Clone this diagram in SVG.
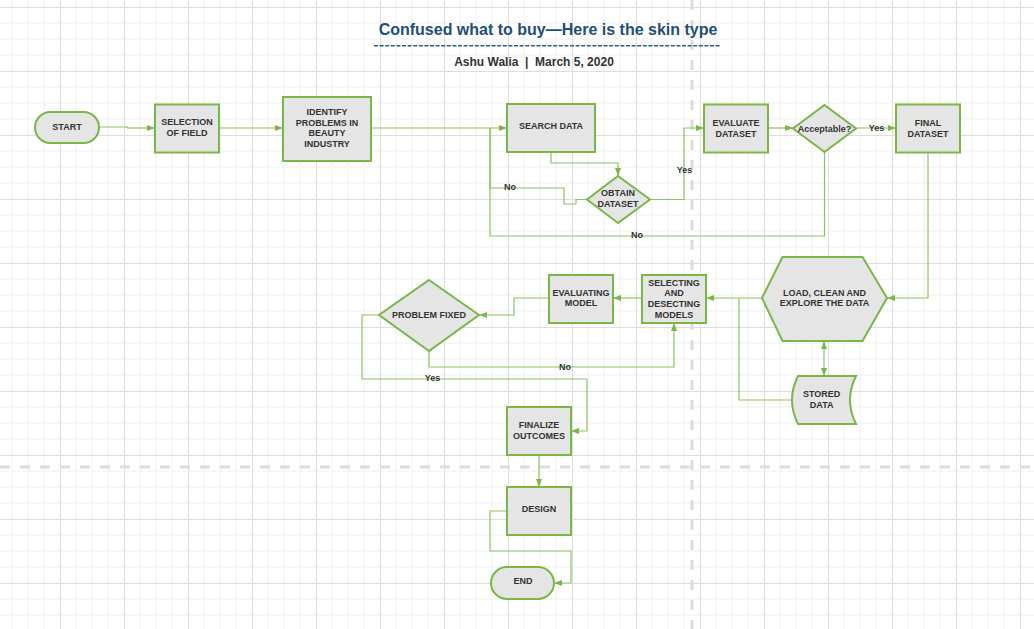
<svg xmlns="http://www.w3.org/2000/svg" width="1034" height="629" viewBox="0 0 1034 629">
<defs>
<pattern id="grid" x="-4" y="7" width="64" height="64" patternUnits="userSpaceOnUse">
<path d="M16,0V64M32,0V64M48,0V64M0,16H64M0,32H64M0,48H64" stroke="#efefef" stroke-width="1" fill="none"/>
<path d="M0.5,0V64M0,0.5H64" stroke="#dedede" stroke-width="1" fill="none"/>
</pattern>
<marker id="arr" markerUnits="userSpaceOnUse" markerWidth="9" markerHeight="7" refX="8" refY="3.5" orient="auto-start-reverse">
<path d="M0,0.5L8,3.5L0,6.5Z" fill="#7ab648"/>
</marker>
<style>
.node{fill:#e5e5e5;stroke:#7ab648;stroke-width:2}
.t{font-family:"Liberation Sans",Arial,sans-serif;font-weight:bold;font-size:9px;fill:#333;text-anchor:middle}
.lbl{font-family:"Liberation Sans",Arial,sans-serif;font-weight:bold;font-size:9px;fill:#333;text-anchor:middle}
.c{fill:none;stroke:#8cc265;stroke-width:1.2}
.ca{fill:none;stroke:#8cc265;stroke-width:1.2;marker-end:url(#arr)}
</style>
</defs>
<rect width="1034" height="629" fill="#ffffff"/>
<rect width="1034" height="629" fill="url(#grid)"/>
<g id="page-breaks" stroke="#dcdcdc" stroke-width="3" stroke-dasharray="10 10" fill="none">
<path d="M692,0V629"/>
<path d="M0,467H1034"/>
</g>
<g id="title">
<text x="548" y="34.5" font-family="'Liberation Sans',Arial,sans-serif" font-weight="bold" font-size="16" fill="#1f4e79" text-anchor="middle">Confused what to buy—Here is the skin type</text>
<path d="M374,45.8H721" stroke="#2b5c8c" stroke-width="1.5" stroke-dasharray="4 1.6" fill="none"/>
<text x="534" y="65.5" font-family="'Liberation Sans',Arial,sans-serif" font-weight="bold" font-size="12" fill="#333" text-anchor="middle" xml:space="preserve">Ashu Walia  |  March 5, 2020</text>
</g>
<g id="connectors">
<path class="c" d="M99,127H127V128"/>
<path class="ca" d="M127,128H155"/>
<path class="ca" d="M219,128H283"/>
<path class="ca" d="M371,128H507"/>
<path class="ca" d="M551,152V163H618V176"/>
<path class="c" d="M587,199.5H576V204H564V188H490V128"/>
<path class="c" d="M824.5,152V236H490V128"/>
<path class="ca" d="M650,199.5H684V128H704"/>
<path class="ca" d="M768,128H793"/>
<path class="ca" d="M856,128H896"/>
<path class="ca" d="M928,152V298H887"/>
<path class="ca" d="M824,341V376" marker-start="url(#arr)"/>
<path class="ca" d="M762,298H706"/>
<path class="c" d="M792,400H739V298"/>
<path class="ca" d="M642,298H613"/>
<path class="ca" d="M549,298H514V315H479"/>
<path class="ca" d="M429,351V367H674V323"/>
<path class="ca" d="M379,315H362V379H587V431H571"/>
<path class="ca" d="M539,455V487"/>
<path class="ca" d="M507,511H490V551H571V583H554"/>
<text class="lbl" x="510" y="190.3">No</text>
<text class="lbl" x="637" y="238.2">No</text>
<text class="lbl" x="684.5" y="173.2">Yes</text>
<text class="lbl" x="876.5" y="130.5">Yes</text>
<text class="lbl" x="565" y="369.5">No</text>
<text class="lbl" x="432.5" y="381.2">Yes</text>
</g>
<g id="start">
<rect class="node" x="35" y="112" width="64" height="31" rx="15.5"/>
<text class="t" x="67" y="129.5">START</text>
</g>
<g id="selection-of-field">
<rect class="node" x="155" y="104.5" width="64" height="48"/>
<text class="t" x="187" y="125.3">SELECTION</text>
<text class="t" x="187" y="136.3">OF FIELD</text>
</g>
<g id="identify-problems">
<rect class="node" x="283" y="97" width="88" height="64"/>
<text class="t" x="327" y="115">IDENTIFY</text>
<text class="t" x="327" y="125.6">PROBLEMS IN</text>
<text class="t" x="327" y="136.3">BEAUTY</text>
<text class="t" x="327" y="147.2">INDUSTRY</text>
</g>
<g id="search-data">
<rect class="node" x="507" y="104" width="88" height="48"/>
<text class="t" x="551" y="129.4">SEARCH DATA</text>
</g>
<g id="obtain-dataset">
<polygon class="node" points="618,176 650,199.5 618,223 587,199.5"/>
<text class="t" x="618" y="196">OBTAIN</text>
<text class="t" x="618" y="207.2">DATASET</text>
</g>
<g id="evaluate-dataset">
<rect class="node" x="704" y="104.5" width="64" height="48"/>
<text class="t" x="736" y="125.5">EVALUATE</text>
<text class="t" x="736" y="136.5">DATASET</text>
</g>
<g id="acceptable">
<polygon class="node" points="824.5,105 856,128.5 824.5,152 793,128.5"/>
<text class="t" x="824.5" y="131.5">Acceptable?</text>
</g>
<g id="final-dataset">
<rect class="node" x="896" y="104.5" width="64" height="48"/>
<text class="t" x="928" y="125.5">FINAL</text>
<text class="t" x="928" y="136.5">DATASET</text>
</g>
<g id="load-clean-explore">
<polygon class="node" points="762,298 782.5,257 862.5,257 887,298 862.5,341 782.5,341"/>
<text class="t" x="824.5" y="296.2">LOAD, CLEAN AND</text>
<text class="t" x="824.5" y="306.4">EXPLORE THE DATA</text>
</g>
<g id="stored-data">
<path class="node" d="M798,376L856,376Q844,400 856,424L798,424Q786,400 798,376Z"/>
<text class="t" x="821.7" y="397.3">STORED</text>
<text class="t" x="821.7" y="408.3">DATA</text>
</g>
<g id="selecting-models">
<rect class="node" x="642" y="275" width="64" height="48"/>
<text class="t" x="674" y="285.5">SELECTING</text>
<text class="t" x="674" y="296.2">AND</text>
<text class="t" x="674" y="306.9">DESECTING</text>
<text class="t" x="674" y="317.5">MODELS</text>
</g>
<g id="evaluating-model">
<rect class="node" x="549" y="275" width="64" height="48"/>
<text class="t" x="581" y="295.5">EVALUATING</text>
<text class="t" x="581" y="306.3">MODEL</text>
</g>
<g id="problem-fixed">
<polygon class="node" points="429,280 479,315 429,351 379,315"/>
<text class="t" x="429" y="318.2">PROBLEM FIXED</text>
</g>
<g id="finalize-outcomes">
<rect class="node" x="507" y="407" width="64" height="48"/>
<text class="t" x="539" y="428.2">FINALIZE</text>
<text class="t" x="539" y="439.2">OUTCOMES</text>
</g>
<g id="design">
<rect class="node" x="507" y="487" width="64" height="48"/>
<text class="t" x="539" y="512.2">DESIGN</text>
</g>
<g id="end">
<rect class="node" x="491" y="567" width="63" height="32" rx="16"/>
<text class="t" x="523" y="584.3">END</text>
</g>
</svg>
